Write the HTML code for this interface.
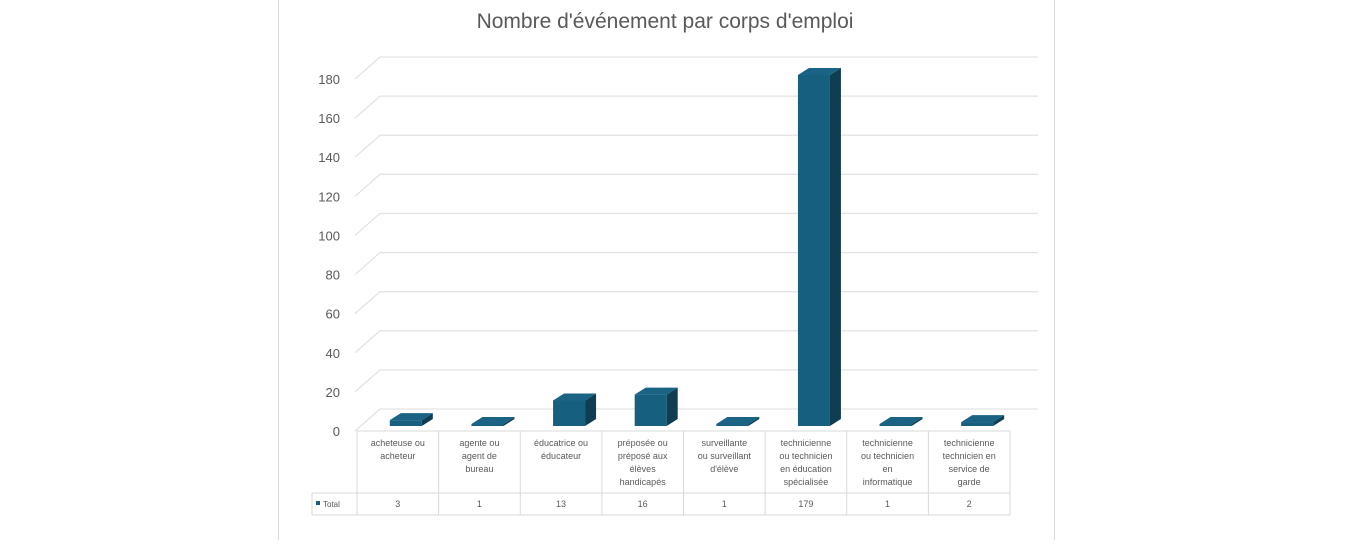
<!DOCTYPE html>
<html><head><meta charset="utf-8"><style>
body{margin:0;background:#fff;width:1360px;height:540px;overflow:hidden;font-family:"Liberation Sans",sans-serif}
</style></head><body>
<svg width="1360" height="540">
<rect x="278.5" y="-1" width="776" height="542" fill="#fff" stroke="#d9d9d9"/>
<text x="665" y="28" text-anchor="middle" font-size="21" fill="#595959">Nombre d'événement par corps d'emploi</text>
<g id="grid"></g><g id="bars"></g><g id="table"></g>
</svg>
<script>
const categories=[["acheteuse ou","acheteur"],["agente ou","agent de","bureau"],["éducatrice ou","éducateur"],["préposée ou","préposé aux","élèves","handicapés"],["surveillante","ou surveillant","d'élève"],["technicienne","ou technicien","en éducation","spécialisée"],["technicienne","ou technicien","en","informatique"],["technicienne","technicien en","service de","garde"]];
const values=[3,1,13,16,1,179,1,2];
const ticks=[0,20,40,60,80,100,120,140,160,180];
const NS="http://www.w3.org/2000/svg";
function mk(p,t,a,n){const e=document.createElementNS(NS,t);for(const k in a)e.setAttribute(k,a[k]);


p.appendChild(e);return e;}
const y0=431,scale=(431-79)/180;
function yF(v){return y0-v*scale;}
const grid=document.getElementById('grid');
ticks.forEach(t=>{const y=yF(t);
mk(grid,'polyline',{points:`355,${y} 380,${y-22} 1038,${y-22}`,fill:'none',stroke:'#e3e3e3','stroke-width':1.3},'gridline');
const tx=mk(grid,'text',{x:340,y:y+5,'text-anchor':'end','font-size':13,fill:'#595959'},'y-tick-label');tx.textContent=t;});
const colL=357,colW=(1010-357)/8;
const bars=document.getElementById('bars');
const by=426,bs=(426-75)/179,dx=11,dy=-7,bw=32;
values.forEach((v,i)=>{const x=colL+colW*(i+0.5)+8-bw/2,h=Math.max(v*bs,0),yt=by-h;
mk(bars,'rect',{x:x,y:yt,width:bw,height:h,fill:'#165f7e'},'bar-'+i);
mk(bars,'polygon',{points:`${x+bw},${yt} ${x+bw+dx},${yt+dy} ${x+bw+dx},${by+dy} ${x+bw},${by}`,fill:'#0f3e52'},'bar-side-'+i);
mk(bars,'polygon',{points:`${x},${yt} ${x+dx},${yt+dy} ${x+bw+dx},${yt+dy} ${x+bw},${yt}`,fill:'#1a6385'},'bar-top-'+i);});
const tb=document.getElementById('table');
const ty0=431,ty1=493,ty2=515;
mk(tb,'line',{x1:colL,y1:ty0,x2:1010,y2:ty0,stroke:'#d9d9d9'},'table-line');
mk(tb,'line',{x1:312,y1:ty1,x2:1010,y2:ty1,stroke:'#d9d9d9'},'table-line');
mk(tb,'line',{x1:312,y1:ty2,x2:1010,y2:ty2,stroke:'#d9d9d9'},'table-line');
mk(tb,'line',{x1:312,y1:ty1,x2:312,y2:ty2,stroke:'#d9d9d9'},'table-line');
for(let i=0;i<=8;i++){const x=colL+colW*i;mk(tb,'line',{x1:x,y1:ty0,x2:x,y2:ty2,stroke:'#d9d9d9'},'table-line');}
mk(tb,'rect',{x:316,y:501,width:4,height:4,fill:'#165f7e'},'legend-key');
const lt=mk(tb,'text',{x:323,y:507,'font-size':8,fill:'#595959'},'legend-label');lt.textContent='Total';
categories.forEach((c,i)=>{const cx=colL+colW*(i+0.5);
c.forEach((l,j)=>{const t=mk(tb,'text',{x:cx,y:446+j*13,'text-anchor':'middle','font-size':9,fill:'#595959'},'category-label');t.textContent=l;});
const vt=mk(tb,'text',{x:cx,y:507,'text-anchor':'middle','font-size':9,fill:'#595959'},'value-label');vt.textContent=values[i];});
</script>
</body></html>
